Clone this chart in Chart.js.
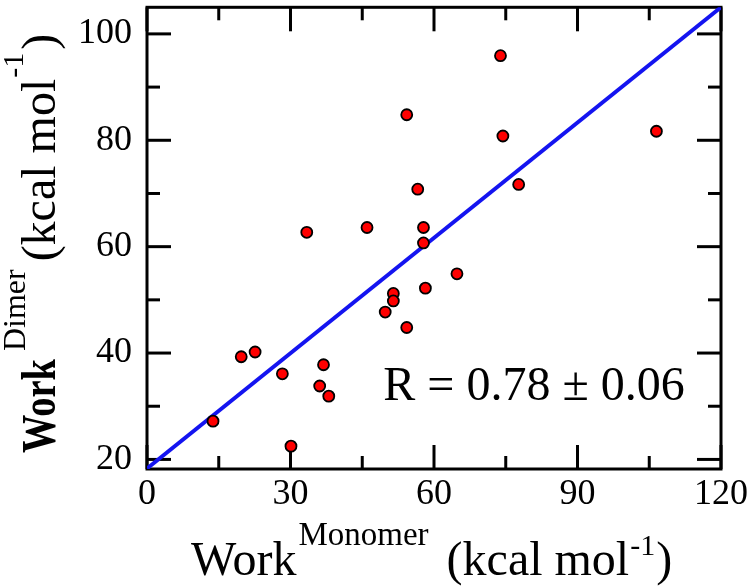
<!DOCTYPE html>
<html><head><meta charset="utf-8">
<script src="https://cdn.jsdelivr.net/npm/chart.js@4/dist/chart.umd.min.js"></script>
<style>html,body{margin:0;padding:0;background:#fff}canvas{display:block}</style>
</head><body>
<canvas id="c" width="755" height="586"></canvas>
<script>
// ---- data ----
const monomerWork = [73.9, 54.3, 74.4, 106.5, 77.7, 56.6, 33.4, 46.0, 57.8, 57.8, 58.2, 64.8, 51.5, 51.5, 49.8, 54.3, 19.7, 22.6, 28.3, 36.9, 36.1, 38.0, 13.8, 30.1];
const dimerWork   = [95.9, 84.8, 80.8, 81.7, 71.7, 70.8, 62.7, 63.6, 63.6, 60.7, 52.2, 54.9, 51.2, 49.8, 47.7, 44.8, 39.3, 40.2, 36.1, 37.8, 33.8, 31.9, 27.2, 22.5];
const fitX = [0, 120];
const fitY = [18.3, 105];
const xTicks = [0, 30, 60, 90, 120];
const xMinor = [15, 45, 75, 105];
const yTicks = [20, 40, 60, 80, 100];
const yMinor = [30, 50, 70, 90];
const rLabel = 'R = 0.78 \u00B1 0.06';
const rAnchor = [49.4, 31.1];

const SERIF = '"Liberation Serif", "Times New Roman", serif';

const framePlugin = {
  id: 'frame',
  beforeDatasetsDraw(chart) {
    const {ctx, chartArea: a, scales: {x, y}} = chart;
    ctx.save();
    ctx.strokeStyle = '#000';
    ctx.lineWidth = 3;
    ctx.lineCap = 'butt';
    ctx.strokeRect(a.left, a.top, a.right - a.left, a.bottom - a.top);
    const tick = (x1, y1, x2, y2) => { ctx.beginPath(); ctx.moveTo(x1, y1); ctx.lineTo(x2, y2); ctx.stroke(); };
    const MAJ = 24, MIN = 13;
    xTicks.forEach(v => { const p = x.getPixelForValue(v); tick(p, a.bottom, p, a.bottom - MAJ); tick(p, a.top, p, a.top + MAJ); });
    xMinor.forEach(v => { const p = x.getPixelForValue(v); tick(p, a.bottom, p, a.bottom - MIN); tick(p, a.top, p, a.top + MIN); });
    yTicks.forEach(v => { const p = y.getPixelForValue(v); tick(a.left, p, a.left + MAJ, p); tick(a.right, p, a.right - MAJ, p); });
    yMinor.forEach(v => { const p = y.getPixelForValue(v); tick(a.left, p, a.left + MIN, p); tick(a.right, p, a.right - MIN, p); });
    ctx.restore();
  }
};

function drawParts(ctx, parts) {
  let pos = 0;
  parts.forEach(p => {
    pos += p.dx || 0;
    ctx.font = p.font;
    const sx = p.sx || 1;
    ctx.save();
    ctx.translate(pos, p.dy || 0);
    ctx.scale(sx, 1);
    ctx.fillText(p.text, 0, 0);
    ctx.restore();
    pos += ctx.measureText(p.text).width * sx;
  });
}

const textPlugin = {
  id: 'texts',
  afterDraw(chart) {
    const {ctx, scales: {x, y}} = chart;
    ctx.save();
    ctx.fillStyle = '#000';
    ctx.textBaseline = 'alphabetic';
    ctx.textAlign = 'left';
    // x-axis title
    ctx.save();
    ctx.translate(191, 575);
    drawParts(ctx, [
      {text: 'Work', font: '48px ' + SERIF},
      {text: 'Monomer', font: '33px ' + SERIF, dx: 2, dy: -30},
      {text: '(kcal mol', font: '48px ' + SERIF, dx: 18},
      {text: '-1', font: '30px ' + SERIF, dx: 1, dy: -20},
      {text: ')', font: '48px ' + SERIF, dx: 1}
    ]);
    ctx.restore();
    // y-axis title
    ctx.save();
    ctx.translate(55, 453);
    ctx.rotate(-Math.PI / 2);
    drawParts(ctx, [
      {text: 'Work', font: 'bold 48px ' + SERIF, sx: 0.8},
      {text: 'Dimer', font: '32px ' + SERIF, dx: 8, dy: -30},
      {text: '(kcal mol', font: '48px ' + SERIF, dx: 8},
      {text: '-1', font: '30px ' + SERIF, dx: 1, dy: -32},
      {text: ')', font: '48px ' + SERIF, dx: 3}
    ]);
    ctx.restore();
    // R annotation
    ctx.font = '48px ' + SERIF;
    ctx.fillText(rLabel, x.getPixelForValue(rAnchor[0]), y.getPixelForValue(rAnchor[1]));
    ctx.restore();
  }
};

new Chart(document.getElementById('c'), {
  type: 'scatter',
  data: {
    datasets: [
      {
        label: 'points',
        data: monomerWork.map((v, i) => ({x: v, y: dimerWork[i]})),
        pointRadius: 5.5,
        pointBackgroundColor: '#ff0000',
        pointBorderColor: '#000',
        pointBorderWidth: 1.8,
        order: 0
      },
      {
        type: 'line',
        label: 'fit',
        data: fitX.map((v, i) => ({x: v, y: fitY[i]})),
        borderColor: '#1414f0',
        borderWidth: 4,
        pointRadius: 0,
        fill: false,
        tension: 0,
        clip: 0,
        order: 1
      }
    ]
  },
  options: {
    responsive: false,
    animation: false,
    devicePixelRatio: 1,
    layout: {padding: {top: 4, right: 34, left: 0, bottom: 0}},
    plugins: {legend: {display: false}, tooltip: {enabled: false}},
    scales: {
      x: {
        type: 'linear', position: 'bottom', min: 0, max: 120,
        grid: {display: false, drawTicks: false},
        border: {display: false},
        afterBuildTicks: s => { s.ticks = xTicks.map(v => ({value: v})); },
        afterFit: s => { s.height = 117; s.paddingLeft = 0; s.paddingRight = 0; },
        ticks: {color: '#000', font: {family: SERIF, size: 36}, padding: 4, maxRotation: 0, autoSkip: false}
      },
      y: {
        type: 'linear', min: 18.2, max: 105,
        grid: {display: false, drawTicks: false},
        border: {display: false},
        afterBuildTicks: s => { s.ticks = yTicks.map(v => ({value: v})); },
        afterFit: s => { s.width = 147; s.paddingTop = 0; s.paddingBottom = 0; },
        ticks: {color: '#000', font: {family: SERIF, size: 36}, padding: 15, autoSkip: false}
      }
    }
  },
  plugins: [framePlugin, textPlugin]
});
</script>
</body></html>
